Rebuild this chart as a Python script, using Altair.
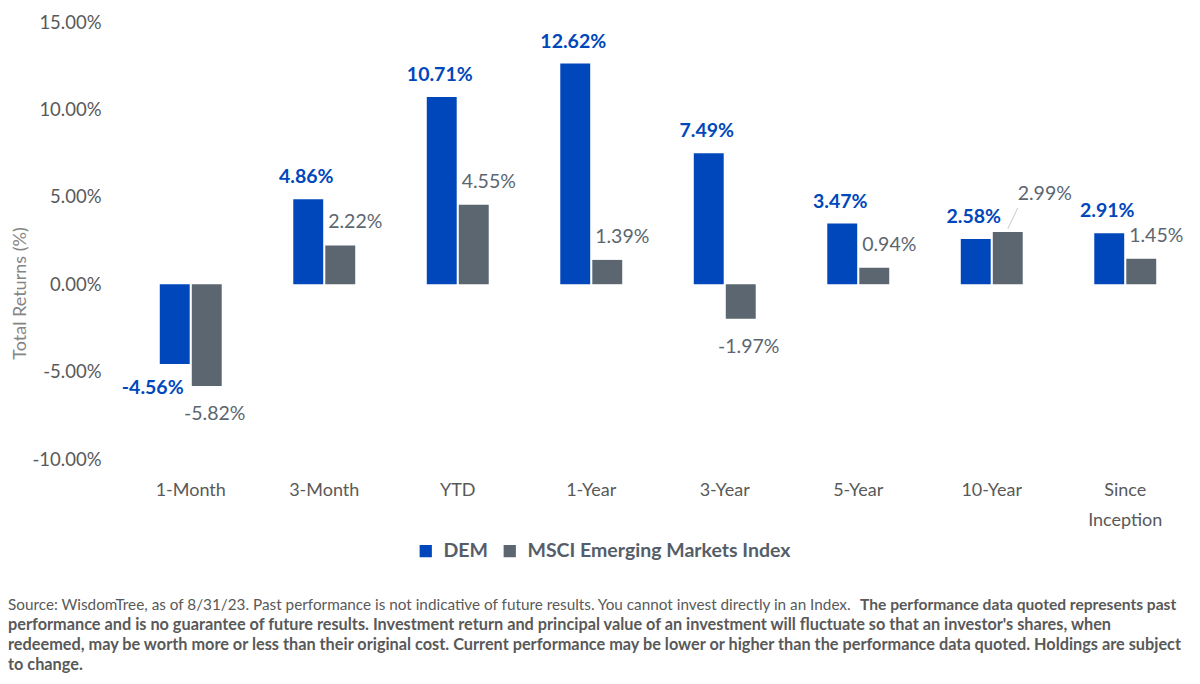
import altair as alt
import pandas as pd

categories = ["1-Month", "3-Month", "YTD", "1-Year", "3-Year", "5-Year", "10-Year", "Since Inception"]
series_names = ["DEM", "MSCI Emerging Markets Index"]
dem = [-4.56, 4.86, 10.71, 12.62, 7.49, 3.47, 2.58, 2.91]
msci = [-5.82, 2.22, 4.55, 1.39, -1.97, 0.94, 2.99, 1.45]
y_ticks = [-10, -5, 0, 5, 10, 15]
colors = ["#0047BB", "#5B6670"]

foot_regular = "Source: WisdomTree, as of 8/31/23. Past performance is not indicative of future results. You cannot invest directly in an Index."
foot_bold_first = "The performance data quoted represents past"
foot_bold_lines = [
    "performance and is no guarantee of future results. Investment return and principal value of an investment will fluctuate so that an investor's shares, when",
    "redeemed, may be worth more or less than their original cost. Current performance may be lower or higher than the performance data quoted. Holdings are subject",
    "to change.",
]

rows = []
for c, d, m in zip(categories, dem, msci):
    rows.append({"Category": c, "Series": series_names[0], "Return": d})
    rows.append({"Category": c, "Series": series_names[1], "Return": m})
df = pd.DataFrame(rows)

FONT = "Lato"
FOOT_FONT = "Lato"

base = alt.Chart(df).transform_calculate(
    label="(datum.Return < 0 ? '-' : '') + format(abs(datum.Return), '.2f') + '%'"
)

x_enc = alt.X(
    "Category:N",
    sort=categories,
    scale=alt.Scale(paddingInner=0.536, paddingOuter=0.268),
    axis=alt.Axis(
        title=None, labelAngle=0, domain=False, ticks=False, labelPadding=22,
        labelFontSize=18, labelColor="#595959", labelFont=FONT,
        labelExpr="datum.value == 'Since Inception' ? ['Since', 'Inception'] : datum.value",
        labelLineHeight=30, labelBaseline="top",
    ),
)
xo_enc = alt.XOffset("Series:N", sort=series_names, scale=alt.Scale(paddingInner=0.065, paddingOuter=0))
y_enc = alt.Y(
    "Return:Q",
    scale=alt.Scale(domain=[-10, 15], nice=False, zero=False),
    axis=alt.Axis(
        values=y_ticks,
        labelExpr="(datum.value < 0 ? '-' : '') + format(abs(datum.value), '.2f') + '%'",
        grid=False, domain=False, ticks=False, labelPadding=23,
        labelFontSize=18.5, labelColor="#595959", labelFont=FONT,
        title="Total Returns (%)", titleFontSize=18, titleFontWeight="normal",
        titleColor="#858585", titleFont=FONT, titleAngle=-90, titleX=-104, titleY=271,
        titleAlign="center", titleBaseline="middle",
    ),
)

bars = base.mark_bar().encode(
    x=x_enc,
    xOffset=xo_enc,
    y=y_enc,
    color=alt.Color(
        "Series:N",
        scale=alt.Scale(domain=series_names, range=colors),
        sort=series_names,
        legend=alt.Legend(
            title=None, orient="none", legendX=292, legendY=519, direction="horizontal",
            symbolType="square", symbolSize=150, symbolStrokeWidth=0,
            labelFontSize=19.5, labelFontWeight="bold", labelColor="#555E68", labelFont=FONT,
            columnPadding=12, labelOffset=8, labelLimit=500,
        ),
    ),
)


def text_layer(flt, color, weight, dx, dy):
    return base.transform_filter(flt).mark_text(
        font=FONT, fontSize=19.5, fontWeight=weight, color=color, dx=dx, dy=dy,
        align="center", baseline="middle",
    ).encode(
        x=alt.X("Category:N", sort=categories),
        xOffset=alt.XOffset("Series:N", sort=series_names),
        y="Return:Q",
        text="label:N",
    )

dem_pos = text_layer("datum.Series == 'DEM' && datum.Return >= 0", colors[0], "bold", -2, -22)
dem_neg = text_layer("datum.Series == 'DEM' && datum.Return < 0", colors[0], "bold", -22, 24)
msci_pos = text_layer("datum.Series != 'DEM' && datum.Return >= 0 && datum.Category != '10-Year'", colors[1], "normal", 15, -23)
msci_neg = text_layer("datum.Series != 'DEM' && datum.Return < 0", colors[1], "normal", 8, 28)
msci_10 = text_layer("datum.Series != 'DEM' && datum.Category == '10-Year'", colors[1], "normal", 37, -38)

leader = base.transform_filter(
    "datum.Series != 'DEM' && datum.Category == '10-Year'"
).mark_rule(color="#c8c8c8", strokeWidth=1, xOffset=0, x2Offset=26, yOffset=-3, y2Offset=-24).encode(
    x=alt.X("Category:N", sort=categories),
    x2=alt.X2("Category:N"),
    xOffset=alt.XOffset("Series:N", sort=series_names),
    y="Return:Q",
    y2="Return:Q",
)


def foot_layer(text, x, y, weight, size):
    return alt.Chart(pd.DataFrame({"t": [text]})).mark_text(
        font=FOOT_FONT, fontSize=size, fontWeight=weight, color="#595959",
        align="left", baseline="middle",
    ).encode(x=alt.value(x), y=alt.value(y), text="t:N")

foots = [foot_layer(foot_regular, -116, 583, "normal", 15.3), foot_layer(foot_bold_first, 736, 583, "bold", 15.6)]
for i, line in enumerate(foot_bold_lines):
    foots.append(foot_layer(line, -116, 603 + 20 * i, "bold", 16.3))

chart = alt.layer(
    bars, leader, dem_pos, dem_neg, msci_pos, msci_neg, msci_10, *foots
).properties(
    width=1068, height=437,
    padding={"left": 116, "top": 14, "right": 0, "bottom": 217},
    autosize=alt.AutoSizeParams(type="none"),
).configure(font=FONT).configure_view(stroke=None).configure_axis(
    domain=False, ticks=False, grid=False
)

chart.save("out.html", embed_options={"renderer": "svg", "actions": False})
